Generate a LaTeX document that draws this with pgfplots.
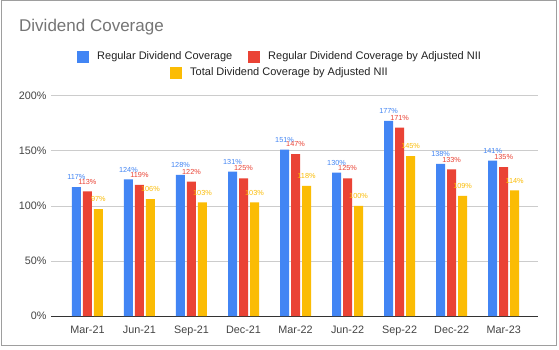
\documentclass[border=0pt]{standalone}
\usepackage{pgfplots}
\pgfplotsset{compat=1.18}
\usepackage{fontspec}
\setmainfont{Liberation Sans}
\definecolor{gblue}{HTML}{4285F4}
\definecolor{gred}{HTML}{EA4335}
\definecolor{gyellow}{HTML}{FBBC04}
\definecolor{titlegray}{HTML}{757575}
\definecolor{ticktext}{HTML}{444444}
\definecolor{legtext}{HTML}{222222}
\definecolor{gridc}{HTML}{CCCCCC}
\definecolor{framec}{HTML}{9E9E9E}
\definecolor{axisc}{HTML}{333333}

\pgfplotstableread{
x blue red yellow
0 117 113 97
1 124 119 106
2 128 122 103
3 131 125 103
4 151 147 118
5 130 125 100
6 177 171 145
7 138 133 109
8 141 135 114
}\datatable

\begin{document}
\begin{tikzpicture}
\useasboundingbox (0pt,0pt) rectangle (559pt,-350pt);
\fill[white] (0pt,0pt) rectangle (559pt,-350pt);
\draw[framec,line width=1pt] (1pt,-1pt) rectangle (556pt,-345pt);
\node[anchor=base west,inner sep=0,font=\fontsize{17}{20}\selectfont,text=titlegray] at (19pt,-32pt) {Dividend Coverage};
% legend
\fill[gblue] (77pt,-51pt) rectangle (89pt,-63pt);
\node[anchor=west,inner sep=0,font=\fontsize{11}{13}\selectfont,text=legtext] at (97pt,-57pt) {Regular Dividend Coverage};
\fill[gred] (248pt,-51pt) rectangle (260pt,-63pt);
\node[anchor=west,inner sep=0,font=\fontsize{11}{13}\selectfont,text=legtext] at (268pt,-57pt) {Regular Dividend Coverage by Adjusted NII};
\fill[gyellow] (170pt,-67pt) rectangle (182pt,-79pt);
\node[anchor=west,inner sep=0,font=\fontsize{11}{13}\selectfont,text=legtext] at (190pt,-73pt) {Total Dividend Coverage by Adjusted NII};
\begin{axis}[
  at={(51pt,-316pt)}, anchor=south west, scale only axis,
  width=487pt, height=220.4pt,
  xmin=-0.70, xmax=8.66, ymin=0, ymax=200,
  enlargelimits=false, clip=false,
  ybar=2pt, bar width=9pt,
  xtick={0,...,8},
  xticklabels={Mar-21,Jun-21,Sep-21,Dec-21,Mar-22,Jun-22,Sep-22,Dec-22,Mar-23},
  ytick={0,50,100,150,200},
  yticklabel={\pgfmathprintnumber{\tick}\%},
  /pgf/number format/assume math mode=true,
  axis lines*=left,
  y axis line style={draw=none},
  x axis line style={draw=axisc, line width=0.8pt, -},
  xtick style={draw=none}, ytick style={draw=none},
  ymajorgrids, grid style={gridc, line width=0.6pt},
  tick label style={font=\fontsize{10.8}{12}\selectfont, text=ticktext},
  yticklabel style={xshift=-1pt},
  xticklabel style={yshift=-2.5pt},
  nodes near coords={\pgfmathprintnumber{\pgfplotspointmeta}\%},
  every node near coord/.append style={font=\fontsize{7.3}{8}\selectfont, inner sep=0pt, anchor=south, yshift=7pt},
]
\addplot[fill=gblue, draw=none, every node near coord/.append style={text=gblue}] table[x=x,y=blue] {\datatable};
\addplot[fill=gred, draw=none, every node near coord/.append style={text=gred}] table[x=x,y=red] {\datatable};
\addplot[fill=gyellow, draw=none, every node near coord/.append style={text=gyellow}] table[x=x,y=yellow] {\datatable};
\end{axis}
\end{tikzpicture}
\end{document}
